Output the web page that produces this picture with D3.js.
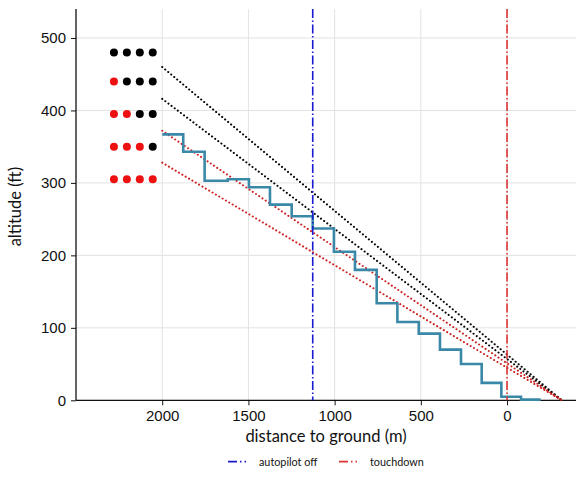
<!DOCTYPE html>
<html>
<head>
<meta charset="utf-8">
<script src="https://cdn.jsdelivr.net/npm/d3@7"></script>
<style>
html,body{margin:0;padding:0;background:#fff;}
svg{display:block;}
text{font-family:Lato,"Noto Sans",sans-serif;fill:#111;}
</style>
</head>
<body>
<svg id="chart" width="585" height="481"></svg>
<script>
// ---- data ----
const xTicks = [2000, 1500, 1000, 500, 0];
const yTicks = [0, 100, 200, 300, 400, 500];

// PAPI light indicator: rows (altitude) and number of red lights per row
const papiColumns = [2280, 2205, 2130, 2055];
const papiRows = [480, 440, 395, 350, 305];
const papiRedCount = [0, 1, 2, 3, 4];

// glide path lines: start altitude at 2000 m, converge to 0 ft at -318 m
const glideStartX = 2000;
const glideEndX = -318;
const glideBlack = [460, 416];
const glideRed = [372, 328];

// actual flight altitude (step profile)
const stepX = [2000, 1878, 1754, 1620, 1497, 1375, 1249, 1127, 1004, 882, 756, 636, 512, 389, 267, 147, 33, -81, -195];
const stepY = [367, 343, 303, 305, 294, 270, 254, 237, 205, 180, 134, 108, 92, 70, 50, 24, 5, 1, 1];

const autopilotOffX = 1127;
const touchdownX = 0;

const legendLabels = ["autopilot off", "touchdown"];

// ---- layout ----
(function () {
const svg = d3.select("#chart");
const mLeft = 76, mRight = 576, mTop = 9, mBottom = 400.3;
const x = d3.scaleLinear().domain([2500, -400]).range([mLeft, mRight]);
const y = d3.scaleLinear().domain([0, 540]).range([mBottom, mTop]);

const blueC = "#1a1ad0", redC = "#dd3333", stepC = "#3a88a8";
const dashDot = "9,2.5,1.5,2.5";

// grid
svg.append("g").selectAll("line").data(xTicks).join("line")
  .attr("x1", d => x(d)).attr("x2", d => x(d)).attr("y1", mTop).attr("y2", mBottom)
  .attr("stroke", "#e2e2e2").attr("stroke-width", 1);
svg.append("g").selectAll("line").data(yTicks).join("line")
  .attr("x1", mLeft).attr("x2", mRight).attr("y1", d => y(d)).attr("y2", d => y(d))
  .attr("stroke", "#e2e2e2").attr("stroke-width", 1);

// axes
const xAxis = svg.append("g").attr("transform", `translate(0,${mBottom})`)
  .call(d3.axisBottom(x).tickValues(xTicks).tickSize(5).tickPadding(5).tickFormat(d3.format("d")));
const yAxis = svg.append("g").attr("transform", `translate(${mLeft},0)`)
  .call(d3.axisLeft(y).tickValues(yTicks).tickSize(5).tickPadding(5));
[xAxis, yAxis].forEach(g => {
  g.select(".domain").attr("stroke", "#111").attr("stroke-width", 1.3);
  g.selectAll(".tick line").attr("stroke", "#111");
  g.selectAll(".tick text").style("font-size", "15px").style("font-family", "'Liberation Sans',Arial,sans-serif").attr("fill", "#111");
});
xAxis.select(".domain").attr("d", `M${mLeft},0H${mRight}`);
yAxis.select(".domain").attr("d", `M0,${mTop}V${mBottom}`);

// axis labels
svg.append("text").attr("x", (mLeft + mRight) / 2).attr("y", 442)
  .attr("text-anchor", "middle").style("font-size", "16.5px").text("distance to ground (m)");
svg.append("text").attr("transform", `translate(21,${(mTop + mBottom) / 2 + 2}) rotate(-90)`)
  .attr("text-anchor", "middle").style("font-size", "16.5px").text("altitude (ft)");

// glide path lines
const line = d3.line().x(d => x(d[0])).y(d => y(d[1]));
glideBlack.forEach(v => {
  svg.append("path").attr("d", line([[glideStartX, v], [glideEndX, 0]]))
    .attr("fill", "none").attr("stroke", "#000").attr("stroke-width", 2)
    .attr("stroke-dasharray", "0.1,3.8").attr("stroke-linecap", "round");
});
glideRed.forEach(v => {
  svg.append("path").attr("d", line([[glideStartX, v], [glideEndX, 0]]))
    .attr("fill", "none").attr("stroke", "#cc2222").attr("stroke-width", 2)
    .attr("stroke-dasharray", "0.1,3.8").attr("stroke-linecap", "round");
});

// step line
const stepLine = d3.line().curve(d3.curveStepAfter).x(d => x(d[0])).y(d => y(d[1]));
svg.append("path").attr("d", stepLine(stepX.map((d, i) => [d, stepY[i]])))
  .attr("fill", "none").attr("stroke", stepC).attr("stroke-width", 2.6);

// vertical lines
svg.append("line").attr("x1", x(autopilotOffX)).attr("x2", x(autopilotOffX)).attr("y1", mTop).attr("y2", mBottom)
  .attr("stroke", blueC).attr("stroke-width", 1.6).attr("stroke-dasharray", dashDot);
svg.append("line").attr("x1", x(touchdownX)).attr("x2", x(touchdownX)).attr("y1", mTop).attr("y2", mBottom)
  .attr("stroke", redC).attr("stroke-width", 1.6).attr("stroke-dasharray", dashDot);

// PAPI dots
const dots = [];
papiRows.forEach((r, ri) => papiColumns.forEach((c, ci) => dots.push({x: c, y: r, red: ci < papiRedCount[ri]})));
svg.append("g").selectAll("circle").data(dots).join("circle")
  .attr("cx", d => x(d.x)).attr("cy", d => y(d.y)).attr("r", 4)
  .attr("fill", d => d.red ? "#ee1111" : "#000");

// legend
const leg = svg.append("g");
const legItems = [{label: legendLabels[0], color: blueC, x: 228}, {label: legendLabels[1], color: redC, x: 339}];
legItems.forEach(it => {
  leg.append("line").attr("x1", it.x).attr("x2", it.x + 18).attr("y1", 461.7).attr("y2", 461.7)
    .attr("stroke", it.color).attr("stroke-width", 1.8).attr("stroke-dasharray", "9,3,1.5,3");
  leg.append("text").attr("x", it.x + 31).attr("y", 465.5).style("font-size", "10.8px").text(it.label);
});
})();
</script>
</body>
</html>
